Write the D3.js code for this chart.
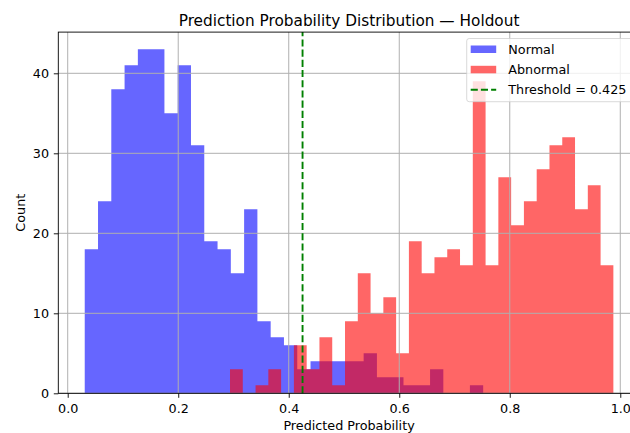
<!DOCTYPE html>
<html>
<head>
<meta charset="utf-8">
<script src="https://cdn.jsdelivr.net/npm/d3@7"></script>
<style>
  body { margin: 0; background: #fff; }
  svg { font-family: "DejaVu Sans", sans-serif; display: block; }
</style>
</head>
<body>
<script>
// histogram counts, 30 bins each
var normalCounts = [18, 24, 38, 41, 43, 43, 35, 41, 31, 19, 18, 15, 23, 9, 7,
                    6, 3, 4, 4, 4, 4, 5, 2, 2, 1, 1, 3, 0, 0, 1];
var abnormalCounts = [3, 0, 1, 3, 0, 6, 3, 7, 1, 9, 15, 10, 12, 5, 19,
                      15, 17, 18, 16, 39, 16, 27, 21, 24, 28, 31, 32, 23, 26, 16];
// min / max of the predicted probabilities for each class (bin range)
var normalRange = [0.0308, 0.7519];
var abnormalRange = [0.2937, 0.9875];
var threshold = 0.425;
var xTicks = [0, 0.2, 0.4, 0.6, 0.8, 1.0];
var yTicks = [0, 10, 20, 30, 40];

var W = 630, H = 433;
var margin = {left: 58.3, top: 32.1, bottom: 393.3, right: 639.8};
var fs = 12.75;

var svg = d3.select("body").append("svg")
  .attr("width", W)
  .attr("height", H);

// matplotlib style 5% margins on x, y up to max*1.05
var lo = Math.min(normalRange[0], abnormalRange[0]);
var hi = Math.max(normalRange[1], abnormalRange[1]);
var pad = (hi - lo) * 0.05;
var yMax = d3.max(normalCounts.concat(abnormalCounts)) * 1.05;

var x = d3.scaleLinear().domain([lo - pad, hi + pad]).range([margin.left, margin.right]);
var y = d3.scaleLinear().domain([0, yMax]).range([margin.bottom, margin.top]);

function makeBins(counts, range) {
  var n = counts.length;
  var w = (range[1] - range[0]) / n;
  var pts = counts.map(function(c, i) {
    return {x: range[0] + i * w, count: c};
  });
  // closing edge of the last bin
  pts.push({x: range[1], count: counts[n - 1]});
  return pts;
}

var series = [
  {name: "Normal", color: "blue", bins: makeBins(normalCounts, normalRange)},
  {name: "Abnormal", color: "red", bins: makeBins(abnormalCounts, abnormalRange)}
];

// one stepped shape per class so adjacent bars have no seams
var area = d3.area()
  .curve(d3.curveStepAfter)
  .x(function(d) { return x(d.x); })
  .y0(y(0))
  .y1(function(d) { return y(d.count); });

series.forEach(function(s) {
  svg.append("path")
    .datum(s.bins)
    .attr("d", area)
    .attr("fill", s.color)
    .attr("fill-opacity", 0.6);
});

// grid on top of the bars
var grid = svg.append("g").attr("stroke", "#b0b0b0").attr("stroke-width", 1);
grid.selectAll(".gx").data(xTicks).enter().append("line")
  .attr("x1", function(d) { return x(d); })
  .attr("x2", function(d) { return x(d); })
  .attr("y1", margin.top).attr("y2", margin.bottom);
grid.selectAll(".gy").data(yTicks).enter().append("line")
  .attr("y1", function(d) { return y(d); })
  .attr("y2", function(d) { return y(d); })
  .attr("x1", margin.left).attr("x2", margin.right);

// threshold line
svg.append("line")
  .attr("x1", x(threshold)).attr("x2", x(threshold))
  .attr("y1", margin.bottom).attr("y2", margin.top)
  .attr("stroke", "green")
  .attr("stroke-width", 1.9)
  .attr("stroke-dasharray", "7.1,3.1");

// axes
var xAxis = d3.axisBottom(x).tickValues(xTicks).tickFormat(d3.format(".1f"))
  .tickSize(4.5).tickPadding(6.1).tickSizeOuter(0);
var yAxis = d3.axisLeft(y).tickValues(yTicks).tickFormat(d3.format("d"))
  .tickSize(4.5).tickPadding(4.8).tickSizeOuter(0);

var gx = svg.append("g").attr("transform", "translate(0," + margin.bottom + ")").call(xAxis);
var gy = svg.append("g").attr("transform", "translate(" + margin.left + ",0)").call(yAxis);
[gx, gy].forEach(function(g) {
  g.select(".domain").remove();
  g.selectAll("line").attr("stroke", "#000").attr("stroke-width", 0.9);
  g.selectAll("text").attr("fill", "#000")
    .style("font-size", fs + "px").style("font-family", "DejaVu Sans");
});

// spines
svg.append("rect")
  .attr("x", margin.left).attr("y", margin.top)
  .attr("width", margin.right - margin.left)
  .attr("height", margin.bottom - margin.top)
  .attr("fill", "none").attr("stroke", "#000").attr("stroke-width", 0.9);

// title & labels
svg.append("text")
  .attr("x", (margin.left + margin.right) / 2).attr("y", 26)
  .attr("text-anchor", "middle")
  .style("font-size", "15.3px")
  .text("Prediction Probability Distribution \u2014 Holdout");

svg.append("text")
  .attr("x", (margin.left + margin.right) / 2).attr("y", 429.5)
  .attr("text-anchor", "middle")
  .style("font-size", fs + "px")
  .text("Predicted Probability");

svg.append("text")
  .attr("transform", "translate(25," + ((margin.top + margin.bottom) / 2) + ") rotate(-90)")
  .attr("text-anchor", "middle")
  .style("font-size", fs + "px")
  .text("Count");

// legend
var legendItems = [
  {label: series[0].name, color: series[0].color, type: "patch"},
  {label: series[1].name, color: series[1].color, type: "patch"},
  {label: "Threshold = " + threshold, color: "green", type: "line"}
];
var lg = svg.append("g");
lg.append("rect")
  .attr("x", 466.7).attr("y", 38.5)
  .attr("width", 166.7).attr("height", 63.2)
  .attr("rx", 2.5)
  .attr("fill", "#fff").attr("fill-opacity", 0.8)
  .attr("stroke", "#ccc").attr("stroke-opacity", 0.8).attr("stroke-width", 0.9);

var rows = lg.selectAll(".row").data(legendItems).enter().append("g")
  .attr("transform", function(d, i) { return "translate(470.7," + (49.2 + i * 20.3) + ")"; });
rows.filter(function(d) { return d.type == "patch"; }).append("rect")
  .attr("x", 0).attr("y", -3.7).attr("width", 25.5).attr("height", 7.5)
  .attr("fill", function(d) { return d.color; }).attr("fill-opacity", 0.6);
rows.filter(function(d) { return d.type == "line"; }).append("line")
  .attr("x1", 0).attr("x2", 25.5)
  .attr("stroke", function(d) { return d.color; })
  .attr("stroke-width", 1.9).attr("stroke-dasharray", "7.1,3.1");
rows.append("text")
  .attr("x", 37.6).attr("y", 4.5)
  .style("font-size", fs + "px")
  .text(function(d) { return d.label; });
</script>
</body>
</html>
